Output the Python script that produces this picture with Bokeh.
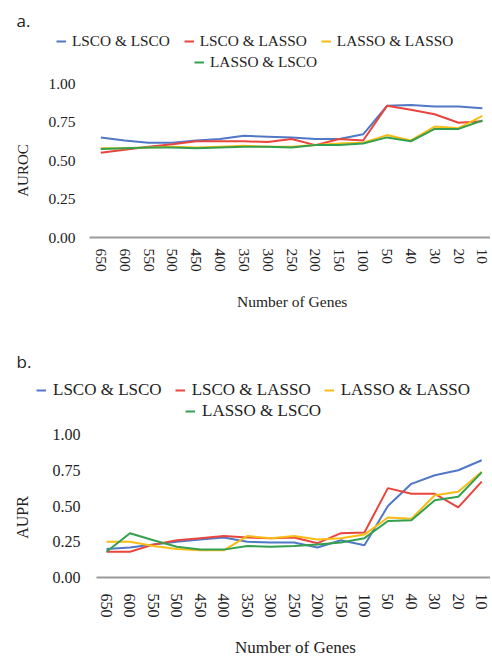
import math
from bokeh.plotting import figure
from bokeh.models import Range1d, FixedTicker, Legend, LegendItem, Label, NumeralTickFormatter
from bokeh.layouts import column
from bokeh.embed import file_html
from bokeh.resources import INLINE

# ---------------- data ----------------
genes = [650, 600, 550, 500, 450, 400, 350, 300, 250, 200, 150, 100, 50, 40, 30, 20, 10]
series_names = ["LSCO & LSCO", "LSCO & LASSO", "LASSO & LASSO", "LASSO & LSCO"]
y_ticks = [0.0, 0.25, 0.5, 0.75, 1.0]

auroc_lsco_lsco = [0.65, 0.63, 0.615, 0.615, 0.63, 0.64, 0.66, 0.655, 0.65, 0.64, 0.64, 0.67, 0.855, 0.86, 0.85, 0.85, 0.84]
auroc_lsco_lasso = [0.55, 0.57, 0.59, 0.605, 0.625, 0.625, 0.625, 0.62, 0.64, 0.60, 0.64, 0.63, 0.855, 0.83, 0.80, 0.745, 0.755]
auroc_lasso_lasso = [0.58, 0.58, 0.585, 0.59, 0.585, 0.59, 0.595, 0.59, 0.59, 0.60, 0.61, 0.615, 0.665, 0.63, 0.72, 0.71, 0.79]
auroc_lasso_lsco = [0.575, 0.58, 0.585, 0.585, 0.58, 0.585, 0.59, 0.59, 0.585, 0.60, 0.60, 0.61, 0.65, 0.625, 0.705, 0.705, 0.76]

aupr_lsco_lsco = [0.20, 0.21, 0.23, 0.25, 0.265, 0.28, 0.25, 0.245, 0.245, 0.21, 0.26, 0.225, 0.50, 0.655, 0.715, 0.75, 0.82]
aupr_lsco_lasso = [0.18, 0.18, 0.23, 0.26, 0.275, 0.29, 0.28, 0.275, 0.28, 0.24, 0.31, 0.315, 0.625, 0.585, 0.585, 0.49, 0.67]
aupr_lasso_lasso = [0.25, 0.25, 0.22, 0.20, 0.19, 0.19, 0.29, 0.275, 0.29, 0.265, 0.275, 0.30, 0.42, 0.41, 0.575, 0.60, 0.74]
aupr_lasso_lsco = [0.18, 0.31, 0.26, 0.215, 0.195, 0.195, 0.22, 0.215, 0.22, 0.23, 0.245, 0.275, 0.395, 0.40, 0.54, 0.565, 0.735]

# ---------------- style ----------------
COLORS = ["#5078c6", "#e8453c", "#f9bc15", "#34a04f"]
SERIF = "Liberation Serif"
SANS = "Open Sans"
TXT = "#222222"
FIG_W = 490
ORIGIN_X = 1   # page x where the canvas starts (as observed)


def make_panel(tag, ylabel, series, c):
    """Whole panel lives inside the frame; page pixel layout -> data ranges."""
    H = c["height"]
    sp = c["spacing"]           # px per category
    px0 = c["first_px"]         # page x of first category
    py0, ppu = c["zero_py"], c["px_per_unit"]
    top_py = c["top_py"]        # page y of figure top
    to_x = lambda px: (px - px0) / sp
    to_y = lambda py: (py0 - py) / ppu

    x0, x1 = to_x(ORIGIN_X), to_x(ORIGIN_X + FIG_W)
    y1, y0 = to_y(top_py), to_y(top_py + H)
    axis_left = to_x(c["axis_left_px"])

    xs = list(range(len(genes)))
    p = figure(width=FIG_W, height=H,
               x_range=Range1d(x0, x1), y_range=Range1d(y0, y1),
               output_backend="svg", toolbar_location=None,
               min_border_left=0, min_border_right=0,
               min_border_top=0, min_border_bottom=0)
    p.outline_line_color = None
    p.xgrid.visible = False
    p.ygrid.visible = False
    p.background_fill_color = "white"
    p.border_fill_color = "white"

    renderers = []
    for name, col, vals in zip(series_names, COLORS, series):
        renderers.append(p.line(xs, vals, line_color=col, line_width=2))

    xa = p.xaxis[0]
    xa.fixed_location = 0
    xa.bounds = (axis_left, x1)
    xa.ticker = FixedTicker(ticks=xs)
    xa.major_label_overrides = {i: str(g) for i, g in zip(xs, genes)}
    xa.major_label_orientation = "vertical"
    xa.major_label_text_font = SERIF
    xa.major_label_text_font_size = c["tick_fs"]
    xa.major_label_text_color = TXT
    xa.major_label_standoff = c["x_std"]
    xa.major_tick_line_color = None
    xa.minor_tick_line_color = None
    xa.axis_line_color = "#9a9a9a"
    xa.axis_line_width = 2

    ya = p.yaxis[0]
    ya.fixed_location = axis_left
    ya.bounds = (0, 1)
    ya.ticker = FixedTicker(ticks=y_ticks)
    ya.formatter = NumeralTickFormatter(format="0.00")
    ya.major_label_text_font = SERIF
    ya.major_label_text_font_size = c["tick_fs"]
    ya.major_label_text_color = TXT
    ya.major_label_standoff = c["y_std"]
    ya.axis_line_color = None
    ya.major_tick_line_color = None
    ya.minor_tick_line_color = None

    # axis titles and panel tag
    p.add_layout(Label(x=to_x(c["ylab_px"][0]), y=to_y(c["ylab_px"][1]), text=ylabel,
                       angle=math.pi / 2, text_font=SERIF, text_font_size=c["ylab_fs"],
                       text_color=TXT, text_align="center", text_baseline="middle"))
    p.add_layout(Label(x=to_x(c["xlab_px"][0]), y=to_y(c["xlab_px"][1]), text="Number of Genes",
                       text_font=SERIF, text_font_size=c["xlab_fs"],
                       text_color=TXT, text_align="center", text_baseline="middle"))
    p.add_layout(Label(x=to_x(c["tag_px"][0]), y=to_y(c["tag_px"][1]), text=tag,
                       text_font=SANS, text_font_size=c["tag_fs"], text_color=TXT,
                       text_align="left", text_baseline="alphabetic"))

    # legends: two centred rows
    common = dict(orientation="horizontal", border_line_color=None, background_fill_alpha=0,
                  padding=0, margin=0, spacing=c["leg_sp"], label_standoff=c["leg_std"],
                  glyph_width=10, glyph_height=20, label_height=20,
                  label_text_font=SERIF, label_text_font_size=c["leg_fs"], label_text_color=TXT)
    bottom_py = top_py + H
    (l1x, l1y), (l2x, l2y) = c["leg_px"]
    leg1 = Legend(items=[LegendItem(label=n, renderers=[r]) for n, r in zip(series_names[:3], renderers[:3])],
                  location=(l1x - ORIGIN_X, bottom_py - l1y), **common)
    leg2 = Legend(items=[LegendItem(label=series_names[3], renderers=[renderers[3]])],
                  location=(l2x - ORIGIN_X, bottom_py - l2y), **common)
    p.add_layout(leg1)
    p.add_layout(leg2)
    return p


top_cfg = dict(height=329, top_py=1, spacing=23.85, first_px=101.3, zero_py=238, px_per_unit=154,
               axis_left_px=90, tick_fs="15.5px", x_std=5, y_std=8,
               ylab_px=(23, 171), ylab_fs="15px", xlab_px=(292.7, 301.7), xlab_fs="15.5px",
               tag_px=(17, 21), tag_fs="17px",
               leg_sp=14, leg_std=6, leg_fs="15.3px", leg_px=((57, 52), (195, 73)))

bot_cfg = dict(height=327, top_py=330, spacing=23.45, first_px=107, zero_py=578, px_per_unit=143,
               axis_left_px=97, tick_fs="16px", x_std=10, y_std=10,
               ylab_px=(22.5, 518), ylab_fs="16px", xlab_px=(296, 648), xlab_fs="17px",
               tag_px=(17, 362), tag_fs="17px",
               leg_sp=13, leg_std=7, leg_fs="17px", leg_px=((37, 401), (186, 421.5)))

p1 = make_panel("a.", "AUROC", [auroc_lsco_lsco, auroc_lsco_lasso, auroc_lasso_lasso, auroc_lasso_lsco], top_cfg)
p2 = make_panel("b.", "AUPR", [aupr_lsco_lsco, aupr_lsco_lasso, aupr_lasso_lasso, aupr_lasso_lsco], bot_cfg)

layout = column(p1, p2, spacing=0)
open("out.html", "w").write(file_html(layout, INLINE))
